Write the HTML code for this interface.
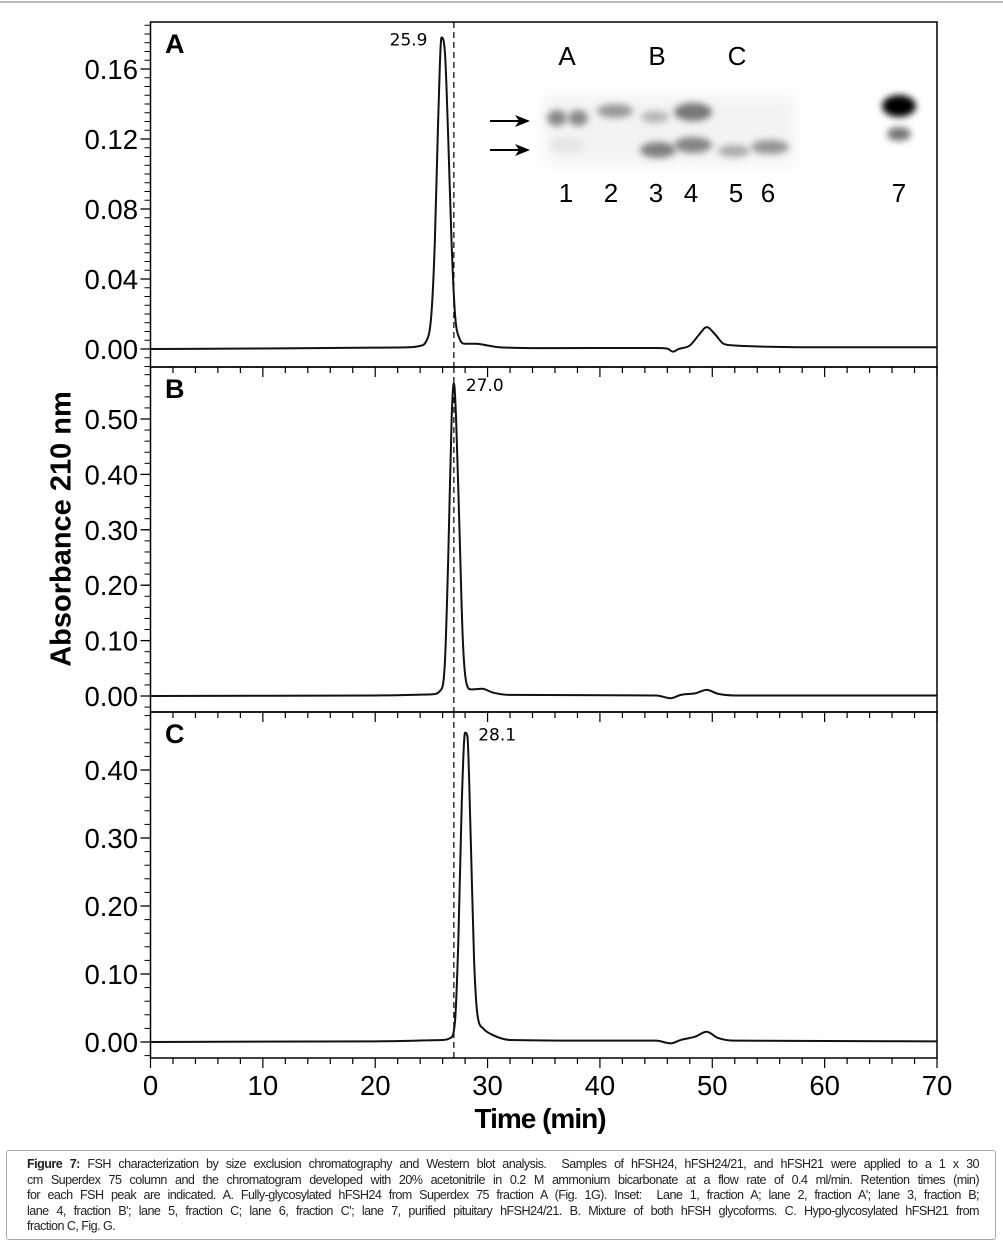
<!DOCTYPE html>
<html><head><meta charset="utf-8">
<style>
html,body{margin:0;padding:0;background:#fff;}
body{width:1003px;height:1248px;position:relative;overflow:hidden;font-family:"Liberation Sans",sans-serif;}
#frame{position:absolute;left:0;top:1px;width:1003px;height:0;border-top:2px solid #bbb;}
#caption{position:absolute;left:6px;top:1150px;width:990px;height:90px;border:1px solid #aaa;border-radius:3px;box-sizing:border-box;padding:6px 16px 0 20px;font-size:12.6px;letter-spacing:-0.55px;line-height:15.6px;color:#222;}
#caption div{text-align:justify;text-align-last:justify;white-space:nowrap;}
#caption div.last{text-align-last:left;}
</style></head>
<body>
<div id="frame"></div>
<svg id="chart" width="1003" height="1148" style="position:absolute;left:0;top:0">
<defs>
<filter id="blur3" x="-50%" y="-50%" width="200%" height="200%"><feGaussianBlur stdDeviation="3.5"/></filter>
<filter id="blur8" x="-50%" y="-50%" width="200%" height="200%"><feGaussianBlur stdDeviation="8"/></filter>
</defs>
<g id="panels"></g>
<g id="inset">
  <rect x="545" y="95" width="250" height="70" fill="#f3f3f3" filter="url(#blur8)"/>
  <ellipse cx="557" cy="118" rx="10" ry="8" fill="#888" filter="url(#blur3)"/>
  <ellipse cx="578" cy="118" rx="10" ry="8" fill="#888" filter="url(#blur3)"/>
  <ellipse cx="567" cy="145" rx="18" ry="8" fill="#e6e6e6" filter="url(#blur3)"/>
  <ellipse cx="615" cy="111" rx="18" ry="7" fill="#999" filter="url(#blur3)"/>
  <ellipse cx="655" cy="117" rx="14" ry="6" fill="#b5b5b5" filter="url(#blur3)"/>
  <ellipse cx="658" cy="150" rx="18" ry="8" fill="#808080" filter="url(#blur3)"/>
  <ellipse cx="693" cy="112" rx="19" ry="9" fill="#777" filter="url(#blur3)"/>
  <ellipse cx="693" cy="145" rx="19" ry="8" fill="#858585" filter="url(#blur3)"/>
  <ellipse cx="734" cy="151" rx="16" ry="6" fill="#aaa" filter="url(#blur3)"/>
  <ellipse cx="770" cy="147" rx="19" ry="7" fill="#959595" filter="url(#blur3)"/>
  <ellipse cx="899" cy="106" rx="17" ry="11" fill="#000" filter="url(#blur3)"/>
  <ellipse cx="899" cy="134" rx="12" ry="7" fill="#777" filter="url(#blur3)"/>
  <g font-size="26" font-family="Liberation Sans, sans-serif" text-anchor="middle">
    <text x="567" y="65">A</text>
    <text x="657" y="65">B</text>
    <text x="737" y="65">C</text>
    <text x="566" y="202">1</text>
    <text x="611" y="202">2</text>
    <text x="656" y="202">3</text>
    <text x="691" y="202">4</text>
    <text x="736" y="202">5</text>
    <text x="768" y="202">6</text>
    <text x="899" y="202">7</text>
  </g>
  <g><line x1="490" y1="121" x2="520" y2="121" stroke="#000" stroke-width="2"/><path d="M530,121 L515,115 L519,121 L515,127 Z" fill="#000"/></g>
  <g><line x1="490" y1="150" x2="520" y2="150" stroke="#000" stroke-width="2"/><path d="M530,150 L515,144 L519,150 L515,156 Z" fill="#000"/></g>
</g>
<text x="63" y="529" transform="rotate(-90 63 529)" text-anchor="middle" dominant-baseline="middle" font-size="29" font-weight="bold">Absorbance 210 nm</text>
<text x="540" y="1128" text-anchor="middle" font-size="28" font-weight="bold" letter-spacing="-1">Time (min)</text>
</svg>
<div id="caption">
<div><b>Figure 7:</b> FSH characterization by size exclusion chromatography and Western blot analysis.&nbsp; Samples of hFSH24, hFSH24/21, and hFSH21 were applied to a 1 x 30</div>
<div>cm Superdex 75 column and the chromatogram developed with 20% acetonitrile in 0.2 M ammonium bicarbonate at a flow rate of 0.4 ml/min. Retention times (min)</div>
<div>for each FSH peak are indicated. A. Fully-glycosylated hFSH24 from Superdex 75 fraction A (Fig. 1G). Inset:&nbsp; Lane 1, fraction A; lane 2, fraction A'; lane 3, fraction B;</div>
<div>lane 4, fraction B'; lane 5, fraction C; lane 6, fraction C'; lane 7, purified pituitary hFSH24/21. B. Mixture of both hFSH glycoforms. C. Hypo-glycosylated hFSH21 from</div>
<div class="last">fraction C, Fig. G.</div>
</div>
<script>
const NS='http://www.w3.org/2000/svg';
const xTicks=[0,10,20,30,40,50,60,70];
const timesA=[0,10,20,23,24,24.5,25,25.3,25.6,25.9,26.2,26.5,26.8,27.1,27.5,28,29,30,31,35,45,46,46.5,47,48,48.8,49.5,50.3,51,52,60,70];
const valuesA=[0,0.0003,0.0008,0.001,0.0018,0.004,0.02,0.06,0.13,0.178,0.17,0.12,0.06,0.02,0.006,0.003,0.003,0.002,0.001,0.0005,0.0006,0.0002,-0.0015,0,0.002,0.008,0.0125,0.008,0.003,0.002,0.001,0.001];
const timesB=[0,20,25,25.8,26.2,26.5,26.8,27.0,27.2,27.5,27.8,28.1,28.5,29.5,30.5,32,45,46.3,47.2,48.5,49.5,50.5,52,70];
const valuesB=[0,0.001,0.003,0.01,0.06,0.25,0.5,0.565,0.5,0.3,0.1,0.025,0.012,0.013,0.006,0.002,0.001,-0.004,0.002,0.005,0.011,0.004,0.001,0.001];
const timesC=[0,20,26,26.7,27.1,27.4,27.7,28.0,28.2,28.5,28.8,29.1,29.6,30.5,32,40,45,46.3,47.2,48.5,49.5,50.5,52,70];
const valuesC=[0,0.001,0.003,0.006,0.03,0.15,0.35,0.455,0.45,0.3,0.12,0.04,0.02,0.01,0.003,0.002,0.002,-0.002,0.003,0.008,0.015,0.006,0.002,0.001];
const yTicksA=[0,0.04,0.08,0.12,0.16];
const yTicksB=[0,0.1,0.2,0.3,0.4,0.5];
const yTicksC=[0,0.1,0.2,0.3,0.4];
const peakLabels=['25.9','27.0','28.1'];
const panelLetters=['A','B','C'];

const X0=150.5,X1=937;
function xs(t){return X0+(X1-X0)*t/70;}
const panels=[
 {top:22,bot:367,zero:349,ppu:1750,t:timesA,v:valuesA,ticks:yTicksA,minor:0.005,dec:2,peak:25.9},
 {top:367,bot:712,zero:696,ppu:554,t:timesB,v:valuesB,ticks:yTicksB,minor:0.02,dec:2,peak:27.0},
 {top:712,bot:1058,zero:1042,ppu:680,t:timesC,v:valuesC,ticks:yTicksC,minor:0.02,dec:2,peak:28.1}
];
const root=document.getElementById('panels');
function el(tag,attrs,parent){const e=document.createElementNS(NS,tag);for(const k in attrs)e.setAttribute(k,attrs[k]);(parent||root).appendChild(e);return e;}
function monotonePath(pts){
 const n=pts.length,d=[],m=[];
 for(let k=0;k<n-1;k++)d.push((pts[k+1][1]-pts[k][1])/(pts[k+1][0]-pts[k][0]));
 m[0]=d[0];m[n-1]=d[n-2];
 for(let k=1;k<n-1;k++){m[k]=(d[k-1]*d[k]<=0)?0:(d[k-1]+d[k])/2;}
 for(let k=0;k<n-1;k++){if(d[k]===0){m[k]=0;m[k+1]=0;continue;}const a=m[k]/d[k],b=m[k+1]/d[k],s=a*a+b*b;if(s>9){const t=3/Math.sqrt(s);m[k]=t*a*d[k];m[k+1]=t*b*d[k];}}
 let s='M'+pts[0][0]+','+pts[0][1];
 for(let k=0;k<n-1;k++){const h=(pts[k+1][0]-pts[k][0])/3;
  s+=' C'+(pts[k][0]+h)+','+(pts[k][1]+m[k]*h)+' '+(pts[k+1][0]-h)+','+(pts[k+1][1]-m[k+1]*h)+' '+pts[k+1][0]+','+pts[k+1][1];}
 return s;
}
panels.forEach((p,i)=>{
 const ys=v=>p.zero-v*p.ppu;
 const g=el('g',{});
 
 
 const box=el('rect',{x:X0,y:p.top,width:X1-X0,height:p.bot-p.top,fill:'none',stroke:'#000','stroke-width':1.5},g);
 
 
 const vmin=(p.zero-p.bot)/p.ppu, vmax=(p.zero-p.top)/p.ppu;
 for(let v=Math.ceil(vmin/p.minor)*p.minor; v<=vmax; v+=p.minor){
  const y=ys(v);
  const t=el('line',{x1:X0-6,x2:X0,y1:y,y2:y,stroke:'#000','stroke-width':1},g);
  
  
 }
 p.ticks.forEach(v=>{
  const y=ys(v);
  const t=el('line',{x1:X0-10,x2:X0,y1:y,y2:y,stroke:'#000','stroke-width':1.3},g);
  
  
  const lb=el('text',{x:138,y:y+10,'text-anchor':'end','font-size':27.5},g);
  lb.textContent=v.toFixed(p.dec);
  
  
 });
 for(let t=0;t<=70;t+=2){
  const major=t%10===0;
  const l=el('line',{x1:xs(t),x2:xs(t),y1:p.bot,y2:p.bot+(major?10:6),stroke:'#000','stroke-width':1.2},g);
  
  
 }
 const d=el('line',{x1:xs(27),x2:xs(27),y1:p.top,y2:p.bot,stroke:'#000','stroke-width':1.2,'stroke-dasharray':'6,4'},g);
 
 
 const pts=p.t.map((t,k)=>[xs(t),ys(p.v[k])]);
 const c=el('path',{d:monotonePath(pts),fill:'none',stroke:'#111','stroke-width':2,'stroke-linejoin':'round'},g);
 
 
 const L=el('text',{x:165,y:p.top+31,'font-size':27,'font-weight':'bold'},g);
 L.textContent=panelLetters[i];
 
 
 const pk=Math.max(...p.v);
 const px=i===0?xs(p.peak)-14:xs(p.peak)+12;
 const pl=el('text',{x:px,y:ys(pk)+8,'font-size':17,'text-anchor':i===0?'end':'start','font-family':'DejaVu Sans, sans-serif'},g);
 pl.textContent=peakLabels[i];
 
 
});
xTicks.forEach(t=>{
 const lb=el('text',{x:xs(t),y:1095,'text-anchor':'middle','font-size':27.5});
 lb.textContent=t;
 
 
});
</script>
</body></html>
